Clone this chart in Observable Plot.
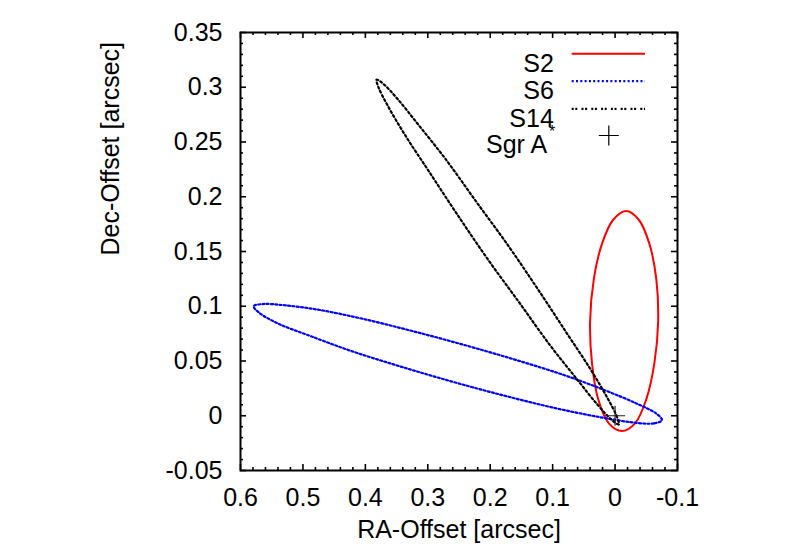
<!DOCTYPE html>
<html>
<head>
<meta charset="utf-8">
<script src="https://cdn.jsdelivr.net/npm/d3@7"></script>
<script src="https://cdn.jsdelivr.net/npm/@observablehq/plot@0.6"></script>
<style>
  html, body { margin: 0; padding: 0; background: #fff; }
  #chart svg { display: block; }
</style>
</head>
<body>
<div id="chart"></div>
<script>
// ---- Data (RA offset, Dec offset in arcsec) ----
const s2RA  = [-0.069, -0.066, -0.055, -0.038, -0.018, 0.003, 0.021, 0.034, 0.040, 0.037, 0.027, 0.010, -0.011, -0.032, -0.050, -0.063];
const s2Dec = [0.086, 0.125, 0.157, 0.179, 0.187, 0.179, 0.157, 0.125, 0.086, 0.048, 0.015, -0.007, -0.014, -0.007, 0.015, 0.048];

const s6RA  = [-0.075, -0.062, -0.027, 0.027, 0.096, 0.175, 0.260, 0.344, 0.422, 0.489, 0.539, 0.570, 0.579, 0.565, 0.531, 0.477, 0.408, 0.329, 0.244, 0.159, 0.081, 0.015, -0.035, -0.066];
const s6Dec = [-0.004, -0.007, -0.006, -0.001, 0.007, 0.018, 0.031, 0.045, 0.059, 0.073, 0.084, 0.094, 0.100, 0.102, 0.101, 0.097, 0.089, 0.078, 0.065, 0.051, 0.037, 0.023, 0.011, 0.002];

const s14RA  = [-0.006, -0.003, 0.012, 0.040, 0.078, 0.123, 0.172, 0.223, 0.271, 0.314, 0.348, 0.371, 0.382, 0.379, 0.364, 0.336, 0.298, 0.253, 0.204, 0.153, 0.105, 0.062, 0.028, 0.005];
const s14Dec = [-0.008, -0.001, 0.016, 0.043, 0.076, 0.115, 0.156, 0.196, 0.234, 0.265, 0.289, 0.303, 0.307, 0.300, 0.283, 0.256, 0.223, 0.184, 0.143, 0.103, 0.065, 0.034, 0.010, -0.004];

const sgrARA  = [0];
const sgrADec = [0];

const xTicks = [0.6, 0.5, 0.4, 0.3, 0.2, 0.1, 0, -0.1];
const xTickLabels = ["0.6", "0.5", "0.4", "0.3", "0.2", "0.1", "0", "-0.1"];
const yTicks = [-0.05, 0, 0.05, 0.1, 0.15, 0.2, 0.25, 0.3, 0.35];
const yTickLabels = ["-0.05", "0", "0.05", "0.1", "0.15", "0.2", "0.25", "0.3", "0.35"];
const xDomain = [0.6, -0.1];
const yDomain = [-0.05, 0.35];

const legendLabels = ["S2", "S6", "S14", "Sgr A"];
const xLabel = "RA-Offset [arcsec]";
const yLabel = "Dec-Offset [arcsec]";

// ---- Build tables ----
const zip = (xs, ys) => xs.map((x, i) => ({ra: x, dec: ys[i]}));
const s2 = zip(s2RA, s2Dec);
const s6 = zip(s6RA, s6Dec);
const s14 = zip(s14RA, s14Dec);
const sgrA = zip(sgrARA, sgrADec);

const xMinor = d3.range(-5, 31).map(i => +(i * 0.02).toFixed(2)).filter(v => !xTicks.some(t => Math.abs(t - v) < 1e-9));
const yMinor = d3.range(-5, 36).map(i => +(i * 0.01).toFixed(2)).filter(v => !yTicks.some(t => Math.abs(t - v) < 1e-9));

const W = 789, H = 552;
const mL = 240, mR = 112, mT = 32, mB = 82;
const innerW = W - mL - mR, innerH = H - mT - mB;
const major = 6, minor = 3;
const FS = 25;

// thin "+" symbol
const crossSymbol = {
  draw(ctx, size) {
    const r = Math.sqrt(size / Math.PI);
    ctx.moveTo(-r, 0); ctx.lineTo(r, 0);
    ctx.moveTo(0, -r); ctx.lineTo(0, r);
  }
};

const styles = [
  {stroke: "#ff0000", strokeWidth: 2, strokeDasharray: null},
  {stroke: "#0000ff", strokeWidth: 2.2, strokeDasharray: "2,2.3"},
  {stroke: "#000000", strokeWidth: 2.2, strokeDasharray: "2,2.6"}
];
const legendDash = [null, "2,2.3", "2,1.6,2,4.2"];

const rowDy = [21.3, 48.7, 76.3, 103];
const rowDx = [-123.7, -123.7, -123.7, -130.3];
const legendMarks = [];
legendLabels.forEach((lab, i) => {
  legendMarks.push(Plot.text([lab], {
    text: d => d, frameAnchor: "top-right", dx: rowDx[i], dy: rowDy[i],
    textAnchor: "end", fill: "#000", fontSize: FS
  }));
  if (i < 3) {
    legendMarks.push(Plot.tickY([yDomain[1]], {
      y: d => d, insetLeft: 331.7, insetRight: 32, dy: rowDy[i],
      stroke: styles[i].stroke, strokeWidth: styles[i].strokeWidth,
      strokeDasharray: legendDash[i]
    }));
  }
});
legendMarks.push(Plot.text(["*"], {
  text: d => d, frameAnchor: "top-right", dx: -125.3, dy: 93,
  textAnchor: "middle", fill: "#000", fontSize: 16
}));
legendMarks.push(Plot.dot([0], {
  frameAnchor: "top-right", dx: -68.7, dy: rowDy[3],
  symbol: crossSymbol, r: 10, stroke: "#000", strokeWidth: 1.2, fill: "none"
}));

const plot = Plot.plot({
  width: W, height: H,
  marginLeft: mL, marginRight: mR, marginTop: mT, marginBottom: mB,
  style: {fontFamily: "'Liberation Sans', Arial, Helvetica, sans-serif", fontSize: FS + "px", background: "#fff", color: "#000"},
  x: {domain: xDomain, axis: null},
  y: {domain: yDomain, axis: null},
  marks: [
    // tick labels
    Plot.axisX({ticks: xTicks, tickFormat: (d, i) => xTickLabels[i], tickSize: 0, tickPadding: 18, label: null, fontSize: FS}),
    Plot.axisY({ticks: yTicks, tickFormat: (d, i) => yTickLabels[i], tickSize: 0, tickPadding: 18, label: null, fontSize: FS}),
    // inward tick marks (all four sides)
    Plot.tickX(xTicks, {x: d => d, insetTop: innerH - major, stroke: "#000", strokeWidth: 1.6}),
    Plot.tickX(xTicks, {x: d => d, insetBottom: innerH - major, stroke: "#000", strokeWidth: 1.6}),
    Plot.tickX(xMinor, {x: d => d, insetTop: innerH - minor, stroke: "#000", strokeWidth: 1.6}),
    Plot.tickX(xMinor, {x: d => d, insetBottom: innerH - minor, stroke: "#000", strokeWidth: 1.6}),
    Plot.tickY(yTicks, {y: d => d, insetRight: innerW - major, stroke: "#000", strokeWidth: 1.6}),
    Plot.tickY(yTicks, {y: d => d, insetLeft: innerW - major, stroke: "#000", strokeWidth: 1.6}),
    Plot.tickY(yMinor, {y: d => d, insetRight: innerW - minor, stroke: "#000", strokeWidth: 1.6}),
    Plot.tickY(yMinor, {y: d => d, insetLeft: innerW - minor, stroke: "#000", strokeWidth: 1.6}),
    // orbits
    Plot.line(s2, {x: "ra", y: "dec", curve: "catmull-rom-closed", ...styles[0]}),
    Plot.line(s6, {x: "ra", y: "dec", curve: "catmull-rom-closed", ...styles[1]}),
    Plot.line(s14, {x: "ra", y: "dec", curve: "catmull-rom-closed", ...styles[2]}),
    Plot.dot(sgrA, {x: "ra", y: "dec", symbol: crossSymbol, r: 10, stroke: "#222", strokeWidth: 1.2, fill: "none"}),
    // frame
    Plot.frame({stroke: "#000", strokeWidth: 2}),
    // axis titles
    Plot.text([xLabel], {text: d => d, frameAnchor: "bottom", dy: 67, fill: "#000", fontSize: FS}),
    Plot.text([yLabel], {text: d => d, frameAnchor: "left", dx: -130, dy: 4, rotate: -90, fill: "#000", fontSize: FS}),
    ...legendMarks
  ]
});
document.getElementById("chart").appendChild(plot);
</script>
</body>
</html>
